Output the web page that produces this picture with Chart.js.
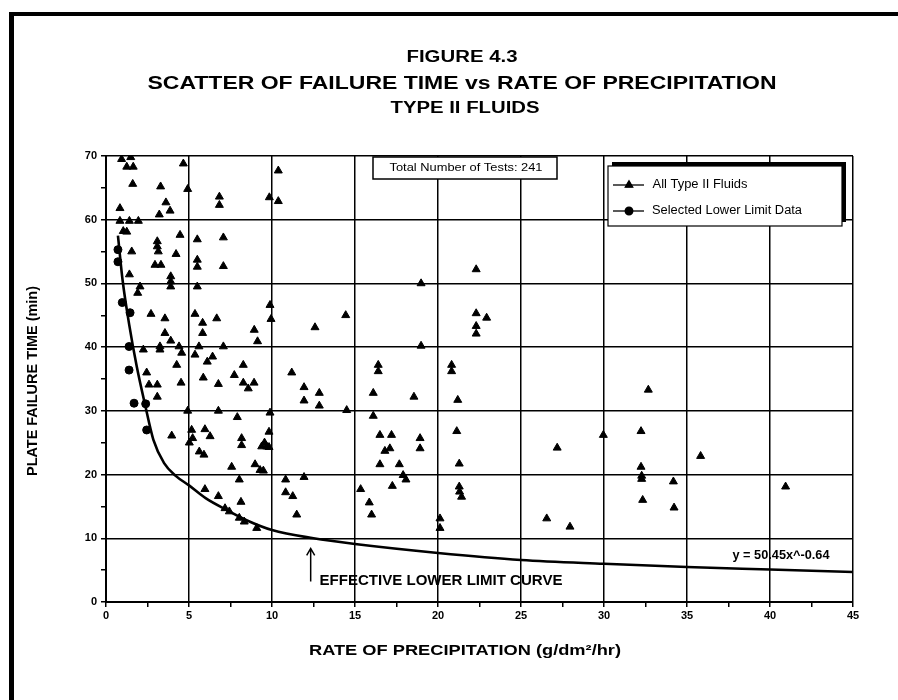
<!DOCTYPE html>
<html>
<head>
<meta charset="utf-8">
<title>Figure 4.3</title>
<script src="https://cdn.jsdelivr.net/npm/chart.js@4.4.0/dist/chart.umd.min.js"></script>
<style>
  html, body { margin: 0; padding: 0; background: #fff; }
</style>
</head>
<body>
<canvas id="failChart" width="898" height="700"></canvas>
<script>
// All Type II Fluids (triangles)
const allX = [
  0.94, 1.49, 1.25, 1.64, 4.66, 10.38, 1.61, 3.29, 4.92, 6.83, 6.83, 9.84, 10.38, 0.84, 3.61, 3.86, 3.21,
  0.84, 1.41, 1.95, 1.04, 1.25, 4.46, 5.5, 7.07, 3.09, 3.09, 3.15, 1.55, 4.22, 5.5, 5.5, 2.95, 3.31, 7.07,
  1.41, 3.9, 3.9, 3.9, 2.05, 1.91, 5.5, 9.88, 9.94, 2.71, 3.55, 5.36, 6.67, 5.82, 8.93, 9.13, 3.55, 5.82,
  3.9, 2.25, 3.25, 3.25, 4.4, 4.56, 5.6, 5.36, 7.07, 6.42, 6.1, 8.27, 4.26, 2.45, 11.19, 5.86, 7.73, 8.27,
  8.57, 8.92, 4.52, 6.77, 2.59, 3.09, 3.09, 4.92, 6.77, 9.88, 7.91, 3.96, 5.16, 5.22, 5.02, 5.96, 6.27,
  9.82, 8.17, 8.17, 9.38, 9.68, 9.82, 9.55, 5.62, 5.9, 7.57, 8.98, 9.28, 9.48, 8.03, 10.82, 10.82, 11.25,
  5.96, 6.77, 8.13, 11.49, 7.17, 7.43, 8.03, 8.33, 9.08,
  22.3, 18.98, 22.3, 22.93, 22.3, 22.3, 14.44, 12.59, 18.98, 16.4, 16.4, 20.82, 20.82, 11.93, 11.93, 12.85,
  12.85, 14.5, 16.1, 16.1, 18.55, 21.19, 16.5, 17.2, 17.1, 16.8, 18.92, 18.92, 21.13, 16.5, 17.67, 17.9,
  18.07, 21.28, 21.28, 21.3, 21.42, 11.93, 17.25, 15.34, 15.86, 16.0, 20.12, 20.12,
  32.67, 32.23, 29.96, 27.18, 32.23, 32.27, 32.27, 34.18, 32.33, 34.22, 26.55, 27.95, 35.82, 40.94
];
const allY = [
  69.5, 69.8, 68.3, 68.3, 68.8, 67.7, 65.6, 65.2, 64.8, 63.6, 62.3, 63.5, 62.9, 61.8, 62.7, 61.4, 60.8,
  59.8, 59.8, 59.8, 58.2, 58.1, 57.6, 56.9, 57.2, 56.6, 55.8, 55.0, 55.0, 54.6, 53.7, 52.6, 52.9, 52.9, 52.7,
  51.4, 51.1, 50.3, 49.5, 49.5, 48.5, 49.5, 46.6, 44.4, 45.2, 44.5, 45.2, 44.5, 43.8, 42.7, 40.9, 42.2, 42.2,
  41.0, 39.6, 40.1, 39.6, 40.1, 39.1, 40.1, 38.8, 40.1, 38.5, 37.7, 37.2, 37.2, 36.0, 36.0, 35.2, 35.6, 34.4,
  33.5, 34.4, 34.4, 34.2, 34.1, 34.1, 32.2, 30.0, 30.0, 29.7, 29.0, 26.1, 27.0, 25.7, 25.0, 27.1, 26.0,
  26.7, 25.7, 24.6, 24.4, 24.4, 24.3, 25.0, 23.6, 23.1, 21.2, 21.6, 20.7, 20.6, 19.2, 19.2, 17.2, 16.6,
  17.7, 16.6, 15.7, 13.7, 14.7, 14.2, 13.2, 12.6, 11.6,
  52.2, 50.0, 45.3, 44.6, 43.3, 42.1, 45.0, 43.1, 40.2, 37.2, 36.2, 37.2, 36.2, 33.7, 31.6, 32.8,
  30.8, 30.1, 32.8, 29.2, 32.2, 31.7, 26.2, 26.2, 24.1, 23.7, 25.7, 24.1, 26.8, 21.6, 21.6, 19.9,
  19.2, 21.7, 18.1, 17.3, 16.5, 19.6, 18.2, 17.7, 15.6, 13.7, 13.1, 11.6,
  33.3, 26.8, 26.2, 24.2, 21.2, 19.8, 19.3, 18.9, 16.0, 14.8, 13.1, 11.8, 22.9, 18.1
];

// Selected Lower Limit Data (circles)
const selX = [0.72, 0.72, 0.98, 1.45, 1.39, 1.39, 1.69, 2.39, 2.45];
const selY = [55.3, 53.4, 47.0, 45.4, 40.1, 36.4, 31.2, 31.1, 27.0];

// effective lower limit curve
const curveX = [0.72, 1.0, 1.4, 1.85, 2.35, 2.85, 3.5, 4.2, 5, 6, 7.3, 8.5, 10, 12.5, 15, 20, 25, 30, 35, 40, 45];
const curveY = [57.5, 50.5, 43.5, 37, 31, 25.5, 21.8, 19.8, 18.3, 16.3, 14.4, 12.8, 11.3, 10.0, 9.1, 7.7, 6.6, 6.0, 5.5, 5.1, 4.7];

const seriesNames = ['All Type II Fluids', 'Selected Lower Limit Data'];
const totalTests = 241;

function toPoints(xs, ys) {
    return xs.map((x, i) => ({ x: x, y: ys[i] }));
}

// the scan is wider than tall, so text is stretched to the width it has there
function fitText(ctx, text, cx, cy, font, width, rotate) {
    ctx.save();
    ctx.font = font;
    const sx = width / ctx.measureText(text).width;
    ctx.translate(cx, cy);
    if (rotate) ctx.rotate(-Math.PI / 2);
    ctx.scale(sx, 1);
    ctx.fillStyle = '#000';
    ctx.textAlign = 'center';
    ctx.textBaseline = 'middle';
    ctx.fillText(text, 0, 0);
    ctx.restore();
}

const FAMILY = '"Liberation Sans", Arial, sans-serif';
const bold = s => 'bold ' + s + 'px ' + FAMILY;
const reg = s => s + 'px ' + FAMILY;

const figureDecor = {
    id: 'figureDecor',
    afterDraw(chart) {
        const ctx = chart.ctx;
        const xs = chart.scales.x, ys = chart.scales.y;

        // page frame
        ctx.save();
        ctx.fillStyle = '#000';
        ctx.fillRect(9, 12, 889, 4);
        ctx.fillRect(9, 12, 5, 688);
        ctx.restore();

        // titles
        fitText(ctx, 'FIGURE 4.3', 462, 58, bold(16), 111);
        fitText(ctx, 'SCATTER OF FAILURE TIME vs RATE OF PRECIPITATION', 462, 84, bold(19), 629);
        fitText(ctx, 'TYPE II FLUIDS', 465, 109, bold(16), 149);

        // axis titles
        fitText(ctx, 'RATE OF PRECIPITATION (g/dm\u00b2/hr)', 465, 651, bold(15), 312);
        fitText(ctx, 'PLATE FAILURE TIME (min)', 33, 381, bold(15), 190, true);

        // total number box
        ctx.save();
        ctx.fillStyle = '#fff';
        ctx.strokeStyle = '#000';
        ctx.lineWidth = 1.5;
        ctx.fillRect(373, 157, 184, 22);
        ctx.strokeRect(373, 157, 184, 22);
        ctx.restore();
        fitText(ctx, 'Total Number of Tests: ' + totalTests, 466, 168, reg(11), 153);

        // legend box with its shadow
        ctx.save();
        ctx.fillStyle = '#000';
        ctx.fillRect(612, 162, 234, 60);
        ctx.fillStyle = '#fff';
        ctx.fillRect(608, 166, 234, 60);
        ctx.strokeStyle = '#000';
        ctx.lineWidth = 1.2;
        ctx.strokeRect(608, 166, 234, 60);
        const rows = [185, 211];
        const styles = ['triangle', 'circle'];
        rows.forEach((ry, i) => {
            ctx.strokeStyle = '#000';
            ctx.lineWidth = 1.3;
            ctx.beginPath();
            ctx.moveTo(613, ry);
            ctx.lineTo(644, ry);
            ctx.stroke();
            ctx.fillStyle = '#000';
            Chart.helpers.drawPoint(ctx, { pointStyle: styles[i], radius: i === 0 ? 4.3 : 3.8, borderWidth: 1 }, 629, ry);
            ctx.fill();
        });
        ctx.restore();
        fitText(ctx, seriesNames[0], 700, 185, reg(12), 95);
        fitText(ctx, seriesNames[1], 727, 211, reg(12), 150);

        // equation and curve label
        fitText(ctx, 'y = 50.45x^-0.64', 781, 556, bold(12), 97);
        fitText(ctx, 'EFFECTIVE LOWER LIMIT CURVE', 441, 581, bold(15), 243);

        // arrow pointing at the curve
        const ax = xs.getPixelForValue(12.33);
        const top = ys.getPixelForValue(8.4);
        const bot = ys.getPixelForValue(3.2);
        ctx.save();
        ctx.strokeStyle = '#000';
        ctx.lineWidth = 1.5;
        ctx.beginPath();
        ctx.moveTo(ax, bot);
        ctx.lineTo(ax, top);
        ctx.moveTo(ax - 4, top + 7);
        ctx.lineTo(ax, top);
        ctx.lineTo(ax + 4, top + 7);
        ctx.stroke();
        ctx.restore();
    }
};

const ctx = document.getElementById('failChart').getContext('2d');

new Chart(ctx, {
    type: 'scatter',
    data: {
        datasets: [{
            label: 'Lower limit curve',
            type: 'line',
            data: toPoints(curveX, curveY),
            borderColor: '#000',
            borderWidth: 2.6,
            pointRadius: 0,
            fill: false,
            cubicInterpolationMode: 'monotone'
        }, {
            label: seriesNames[0],
            data: toPoints(allX, allY),
            pointStyle: 'triangle',
            pointRadius: 4.6,
            pointBorderWidth: 1,
            backgroundColor: '#000',
            borderColor: '#000'
        }, {
            label: seriesNames[1],
            data: toPoints(selX, selY),
            pointStyle: 'circle',
            pointRadius: 4,
            pointBorderWidth: 1,
            backgroundColor: '#000',
            borderColor: '#000'
        }]
    },
    options: {
        responsive: false,
        animation: false,
        events: [],
        layout: { padding: { top: 156, right: 45, left: 0, bottom: 0 } },
        plugins: {
            legend: { display: false },
            tooltip: { enabled: false }
        },
        scales: {
            x: {
                type: 'linear',
                min: 0,
                max: 45,
                afterFit: function(scale) { scale.height = 98; },
                ticks: {
                    stepSize: 2.5,
                    autoSkip: false,
                    maxRotation: 0,
                    padding: 2,
                    color: '#000',
                    font: { family: FAMILY, size: 11, weight: 'bold' },
                    callback: function(v) { return v % 5 === 0 ? v : ''; }
                },
                grid: {
                    color: function(c) { return c.tick && c.tick.value % 5 === 0 ? '#000' : 'rgba(0,0,0,0)'; },
                    tickColor: '#000',
                    lineWidth: 1.5,
                    tickLength: 5
                },
                border: { color: '#000', width: 2 }
            },
            y: {
                min: 0,
                max: 70,
                afterFit: function(scale) { scale.width = 106; },
                ticks: {
                    stepSize: 5,
                    autoSkip: false,
                    padding: 4,
                    color: '#000',
                    font: { family: FAMILY, size: 11, weight: 'bold' },
                    callback: function(v) { return v % 10 === 0 ? v : ''; }
                },
                grid: {
                    color: function(c) { return c.tick && c.tick.value % 10 === 0 ? '#000' : 'rgba(0,0,0,0)'; },
                    tickColor: '#000',
                    lineWidth: 1.5,
                    tickLength: 5
                },
                border: { color: '#000', width: 2 }
            }
        }
    },
    plugins: [figureDecor]
});
</script>
</body>
</html>
